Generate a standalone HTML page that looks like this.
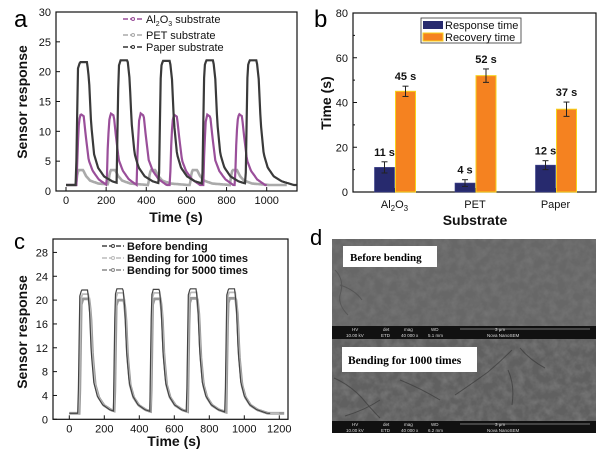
<!DOCTYPE html>
<html><head><meta charset="utf-8">
<style>
body{margin:0;background:#fff;}
svg{display:block;font-family:"Liberation Sans",Arial,sans-serif;}
.tk{font-size:11px;fill:#111;}
.ti{font-size:14px;font-weight:bold;fill:#111;}
.lg{font-size:11px;fill:#111;}
</style></head><body>
<svg id="fig" width="600" height="454" viewBox="0 0 600 454">
<defs>
<filter id="noise" x="0" y="0" width="100%" height="100%">
<feTurbulence type="fractalNoise" baseFrequency="0.12" numOctaves="3" seed="5"/>
<feColorMatrix values="0 0 0 0 0.3  0 0 0 0 0.3  0 0 0 0 0.3  0 0 0 -1.5 1.0"/>
</filter>
</defs>
<text x="14" y="27" font-size="24">a</text>
<text x="314" y="27" font-size="24">b</text>
<text x="14" y="249" font-size="22">c</text>
<text x="310" y="245" font-size="22">d</text>
<g id="pa"></g>
<g id="pb"></g>
<g id="pc"></g>
<g id="pd">
 <rect x="332" y="239" width="264" height="87" fill="#676767"/>
 <rect x="332" y="239" width="264" height="87" filter="url(#noise)" opacity="0.35"/>
 <rect x="332" y="339" width="264" height="82" fill="#606060"/>
 <rect x="332" y="339" width="264" height="82" filter="url(#noise)" opacity="0.5"/>
 <path d="M334,378 Q350,385 362,398 Q372,410 380,418 M400,380 Q420,388 440,400 M455,395 Q470,385 488,372 Q500,362 512,350 M508,370 Q515,385 512,405 M520,348 Q530,360 545,368 M380,400 Q365,410 345,416" stroke="#3a3a3a" stroke-width="1" fill="none" opacity="0.7"/>
 <path d="M335,270 Q345,280 340,295 Q338,305 348,315 M340,285 Q355,290 362,300" stroke="#4a4a4a" fill="none" opacity="0.6"/>
 <rect x="332" y="326" width="264" height="13" fill="#111"/>
 <rect x="332" y="421" width="264" height="12" fill="#111"/>
 <g font-size="4.5" fill="#ddd">
  <text x="352" y="331">HV</text><text x="383" y="331">det</text><text x="404" y="331">mag</text><text x="431" y="331">WD</text>
  <text x="346" y="337">10.00 kV</text><text x="381" y="337">ETD</text><text x="401" y="337">40 000 x</text><text x="428" y="337">5.1 mm</text>
  <text x="495" y="331">3 μm</text><text x="487" y="337">Nova NanoSEM</text>
  <text x="352" y="426">HV</text><text x="383" y="426">det</text><text x="404" y="426">mag</text><text x="431" y="426">WD</text>
  <text x="346" y="432">10.00 kV</text><text x="381" y="432">ETD</text><text x="401" y="432">40 000 x</text><text x="428" y="432">6.2 mm</text>
  <text x="495" y="426">3 μm</text><text x="487" y="432">Nova NanoSEM</text>
 </g>
 <line x1="460" y1="329" x2="590" y2="329" stroke="#ddd" stroke-width="0.6"/>
 <line x1="460" y1="424" x2="590" y2="424" stroke="#ddd" stroke-width="0.6"/>
 <rect x="343" y="246" width="94" height="21" fill="#fff"/>
 <text x="350" y="261" font-family="Liberation Serif,serif" font-weight="bold" font-size="11">Before bending</text>
 <rect x="342" y="347" width="135" height="25" fill="#fff"/>
 <text x="348" y="364" font-family="Liberation Serif,serif" font-weight="bold" font-size="11.5">Bending for 1000 times</text>
</g>
</svg>
<script>
const NS="http://www.w3.org/2000/svg";
function mk(p,tag,at){const e=document.createElementNS(NS,tag);for(const k in at)e.setAttribute(k,at[k]);p.appendChild(e);return e;}
function tx(p,x,y,s,cls,anchor){const e=mk(p,'text',{x:x,y:y,class:cls,'text-anchor':anchor||'middle'});e.textContent=s;return e;}

// ---------- Panel a data ----------
const aTicksX=[0,200,400,600,800,1000];
const aTicksY=[0,5,10,15,20,25,30];
const aPaperStarts=[50,252,463,679,895];
const aPaperPeaks=[21.6,21.9,21.8,21.9,21.9];
const aAlStarts=[53,203,352,518,684,842];
const aAlPeaks=[12.9,13.0,13.0,12.8,12.8,12.9];
const aPetStarts=[50,210,410,618,817];
const aPetPeaks=[3.5,3.5,3.5,3.5,3.5];
const paperProfT=[0,4,10,20,55,65,75,90,110,140,180,240];
const paperProfV=[0,0.4,0.95,1,1,0.85,0.5,0.25,0.14,0.07,0.03,0];
const alProfT=[0,5,12,20,35,45,60,80,110,150];
const alProfV=[0,0.5,0.9,1,0.97,0.7,0.35,0.2,0.08,0];
const petProfT=[0,5,12,35,50,70,110,200];
const petProfV=[0,0.6,1,1,0.6,0.3,0.1,0];

function curve(starts,peaks,pT,pV,base,tmin,tmax){
  const pts=[];
  for(let t=tmin;t<=tmax;t+=4){
    let v=base;
    for(let i=0;i<starts.length;i++){
      const d=t-starts[i];
      if(d<0||d>pT[pT.length-1])continue;
      let j=0;while(j<pT.length-2&&pT[j+1]<d)j++;
      const f=(d-pT[j])/(pT[j+1]-pT[j]);
      const n=pV[j]+f*(pV[j+1]-pV[j]);
      v=Math.max(v,base+(peaks[i]-base)*n);
    }
    pts.push([t,v]);
  }
  return pts;
}
function axesFrame(g,x0,x1,y0,y1,sx,sy,tX,tY){
  mk(g,'rect',{x:x0,y:y0,width:x1-x0,height:y1-y0,fill:'none',stroke:'#111','stroke-width':1.2});
  tX.forEach(v=>{const X=sx(v);mk(g,'line',{x1:X,x2:X,y1:y1,y2:y1-4,stroke:'#111'});tx(g,X,y1+13,v,'tk');});
  tY.forEach(v=>{const Y=sy(v);mk(g,'line',{x1:x0,x2:x0+4,y1:Y,y2:Y,stroke:'#111'});tx(g,x0-5,Y+4,v,'tk','end');});
}
function drawSeries(g,pts,sx,sy,color,w,name){
  const d=pts.map((p,i)=>(i?'L':'M')+sx(p[0]).toFixed(1)+','+sy(p[1]).toFixed(1)).join('');
  const path=mk(g,'path',{d:d,fill:'none',stroke:color,'stroke-width':w});
  
  
  return path;
}
(function(){
  const g=document.getElementById('pa');
  const x0=56,x1=297,y0=12,y1=191;
  const sx=t=>66+t*0.2007, sy=v=>191-v*(179/30);
  const cp=mk(g,'clipPath',{id:'clipA'});mk(cp,'rect',{x:x0,y:y0,width:x1-x0,height:y1-y0});
  const s=mk(g,'g',{'clip-path':'url(#clipA)'});
  drawSeries(s,curve(aPetStarts,aPetPeaks,petProfT,petProfV,1.0,0,1100),sx,sy,'#aaa',2.6,'series-pet');
  drawSeries(s,curve(aAlStarts,aAlPeaks,alProfT,alProfV,1.0,0,1000),sx,sy,'#9a4f9a',2.2,'series-al2o3');
  drawSeries(s,curve(aPaperStarts,aPaperPeaks,paperProfT,paperProfV,1.0,0,1150),sx,sy,'#3a3a3a',2.2,'series-paper');
  axesFrame(g,x0,x1,y0,y1,sx,sy,aTicksX,aTicksY);
  const xt=tx(g,176,222,'Time (s)','ti');
  const yt=tx(g,0,0,'Sensor response','ti');yt.setAttribute('transform','translate(27,102) rotate(-90)');
  
  const leg=[['#9a4f9a','Al₂O₃ substrate',19],['#aaa','PET substrate',35],['#333','Paper substrate',47]];
  leg.forEach(l=>{const e=mk(g,'g',{});
    mk(e,'line',{x1:123,x2:143,y1:l[2],y2:l[2],stroke:l[0],'stroke-width':1.6,'stroke-dasharray':'5,2'});
    mk(e,'circle',{cx:133,cy:l[2],r:1.5,fill:'#fff',stroke:l[0]});
    const t=tx(e,146,l[2]+4,'','lg','start');
    if(l[1].startsWith('Al')){t.innerHTML='Al<tspan font-size="7" dy="3">2</tspan><tspan dy="-3">O</tspan><tspan font-size="7" dy="3">3</tspan><tspan dy="-3"> substrate</tspan>';}
    else t.textContent=l[1];});
})();

// ---------- Panel b data ----------
const bCats=['Al2O3','PET','Paper'];
const bResp=[11,4,12];
const bRespErr=[2.5,1.5,2];
const bRec=[45,52,37];
const bRecErr=[2.3,3,3.2];
const bTicksY=[0,20,40,60,80];
(function(){
  const g=document.getElementById('pb');
  const x0=353,x1=596,y0=13,y1=192;
  const sy=v=>192-v*(179/80);
  const cx=i=>394.5+i*80.5;
  mk(g,'rect',{x:x0,y:y0,width:x1-x0,height:y1-y0,fill:'none',stroke:'#111','stroke-width':1.2});
  bTicksY.forEach(v=>{const Y=sy(v);mk(g,'line',{x1:x0,x2:x0+4,y1:Y,y2:Y,stroke:'#111'});tx(g,x0-5,Y+4,v,'tk','end');});
  [10,30,50,70].forEach(v=>mk(g,'line',{x1:x0,x2:x0+2,y1:sy(v),y2:sy(v),stroke:'#111'}));
  bCats.forEach((c,i)=>{
    const X=cx(i);
    mk(g,'line',{x1:X,x2:X,y1:y1,y2:y1-4,stroke:'#111'});
    const b1=mk(g,'rect',{x:X-20,y:sy(bResp[i]),width:20,height:sy(0)-sy(bResp[i]),fill:'#272a6e',stroke:'#3a3f8a','stroke-width':0.6});
    
    const b2=mk(g,'rect',{x:X+1,y:sy(bRec[i]),width:20,height:sy(0)-sy(bRec[i]),fill:'#f58220',stroke:'#f7d21a','stroke-width':1});
    
    [[X-10,bResp[i],bRespErr[i]],[X+11,bRec[i],bRecErr[i]]].forEach(e=>{
      mk(g,'line',{x1:e[0],x2:e[0],y1:sy(e[1]+e[2]),y2:sy(e[1]-e[2]),stroke:'#222'});
      mk(g,'line',{x1:e[0]-3,x2:e[0]+3,y1:sy(e[1]+e[2]),y2:sy(e[1]+e[2]),stroke:'#222'});
      mk(g,'line',{x1:e[0]-3,x2:e[0]+3,y1:sy(e[1]-e[2]),y2:sy(e[1]-e[2]),stroke:'#222'});
      const l=tx(g,e[0],sy(e[1]+e[2])-6,e[1]+' s','lg');l.setAttribute('font-weight','bold');
    });
    const lab=tx(g,X,208,'','tk');lab.setAttribute('font-size','12');
    if(c==='Al2O3')lab.innerHTML='Al<tspan font-size="8" dy="3">2</tspan><tspan dy="-3">O</tspan><tspan font-size="8" dy="3">3</tspan>';
    else lab.textContent=c;
  });
  const xt=tx(g,475,225,'Substrate','ti');
  const yt=tx(g,0,0,'Time (s)','ti');yt.setAttribute('transform','translate(331,103) rotate(-90)');
  
  const lg=mk(g,'g',{});
  mk(lg,'rect',{x:421,y:18,width:100,height:25,fill:'#fff',stroke:'#333','stroke-width':0.8});
  mk(lg,'rect',{x:423,y:21,width:20,height:8,fill:'#272a6e'});
  mk(lg,'rect',{x:423,y:33,width:20,height:8,fill:'#f58220',stroke:'#f7d21a'});
  tx(lg,445,29,'Response time','lg','start');
  tx(lg,445,41,'Recovery time','lg','start');
})();

// ---------- Panel c data ----------
const cTicksX=[0,200,400,600,800,1000,1200];
const cTicksY=[0,4,8,12,16,20,24,28];
const cStarts0=[50,252,460,670,890];
const cPeaks0=[21.7,21.9,21.8,21.9,21.9];
const cStarts1=[55,255,463,673,893];
const cPeaks1=[21.0,21.2,21.2,21.3,21.3];
const cStarts2=[58,258,466,676,896];
const cPeaks2=[20.2,20.0,20.2,20.3,20.3];
(function(){
  const g=document.getElementById('pc');
  const x0=53,x1=288,y0=239,y1=419.3;
  const sx=t=>69.3+t*0.175, sy=v=>419.3-v*5.96;
  const cp=mk(g,'clipPath',{id:'clipC'});mk(cp,'rect',{x:x0,y:y0,width:x1-x0,height:y1-y0});
  const s=mk(g,'g',{'clip-path':'url(#clipC)'});
  drawSeries(s,curve(cStarts2,cPeaks2,paperProfT,paperProfV,1.0,0,1230),sx,sy,'#999',2.8,'series-5000-bends');
  drawSeries(s,curve(cStarts1,cPeaks1,paperProfT,paperProfV,1.0,0,1200),sx,sy,'#bbb',1.8,'series-1000-bends');
  drawSeries(s,curve(cStarts0,cPeaks0,paperProfT,paperProfV,1.0,0,1150),sx,sy,'#444',1.2,'series-before-bending');
  axesFrame(g,x0,x1,y0,y1,sx,sy,cTicksX,cTicksY);
  const xt=tx(g,174,446,'Time (s)','ti');
  const yt=tx(g,0,0,'Sensor response','ti');yt.setAttribute('transform','translate(27,332) rotate(-90)');
  
  [['#444','Before bending',246],['#bbb','Bending for 1000 times',258],['#888','Bending for 5000 times',270]].forEach(l=>{
    const e=mk(g,'g',{});
    mk(e,'line',{x1:102,x2:124,y1:l[2],y2:l[2],stroke:l[0],'stroke-width':1.5,'stroke-dasharray':'5,2'});
    mk(e,'circle',{cx:113,cy:l[2],r:1.5,fill:'#fff',stroke:l[0]});
    const t=tx(e,127,l[2]+4,l[1],'lg','start');t.setAttribute('font-weight','bold');t.setAttribute('font-size','10.5');
  });
})();
</script>
</body></html>
